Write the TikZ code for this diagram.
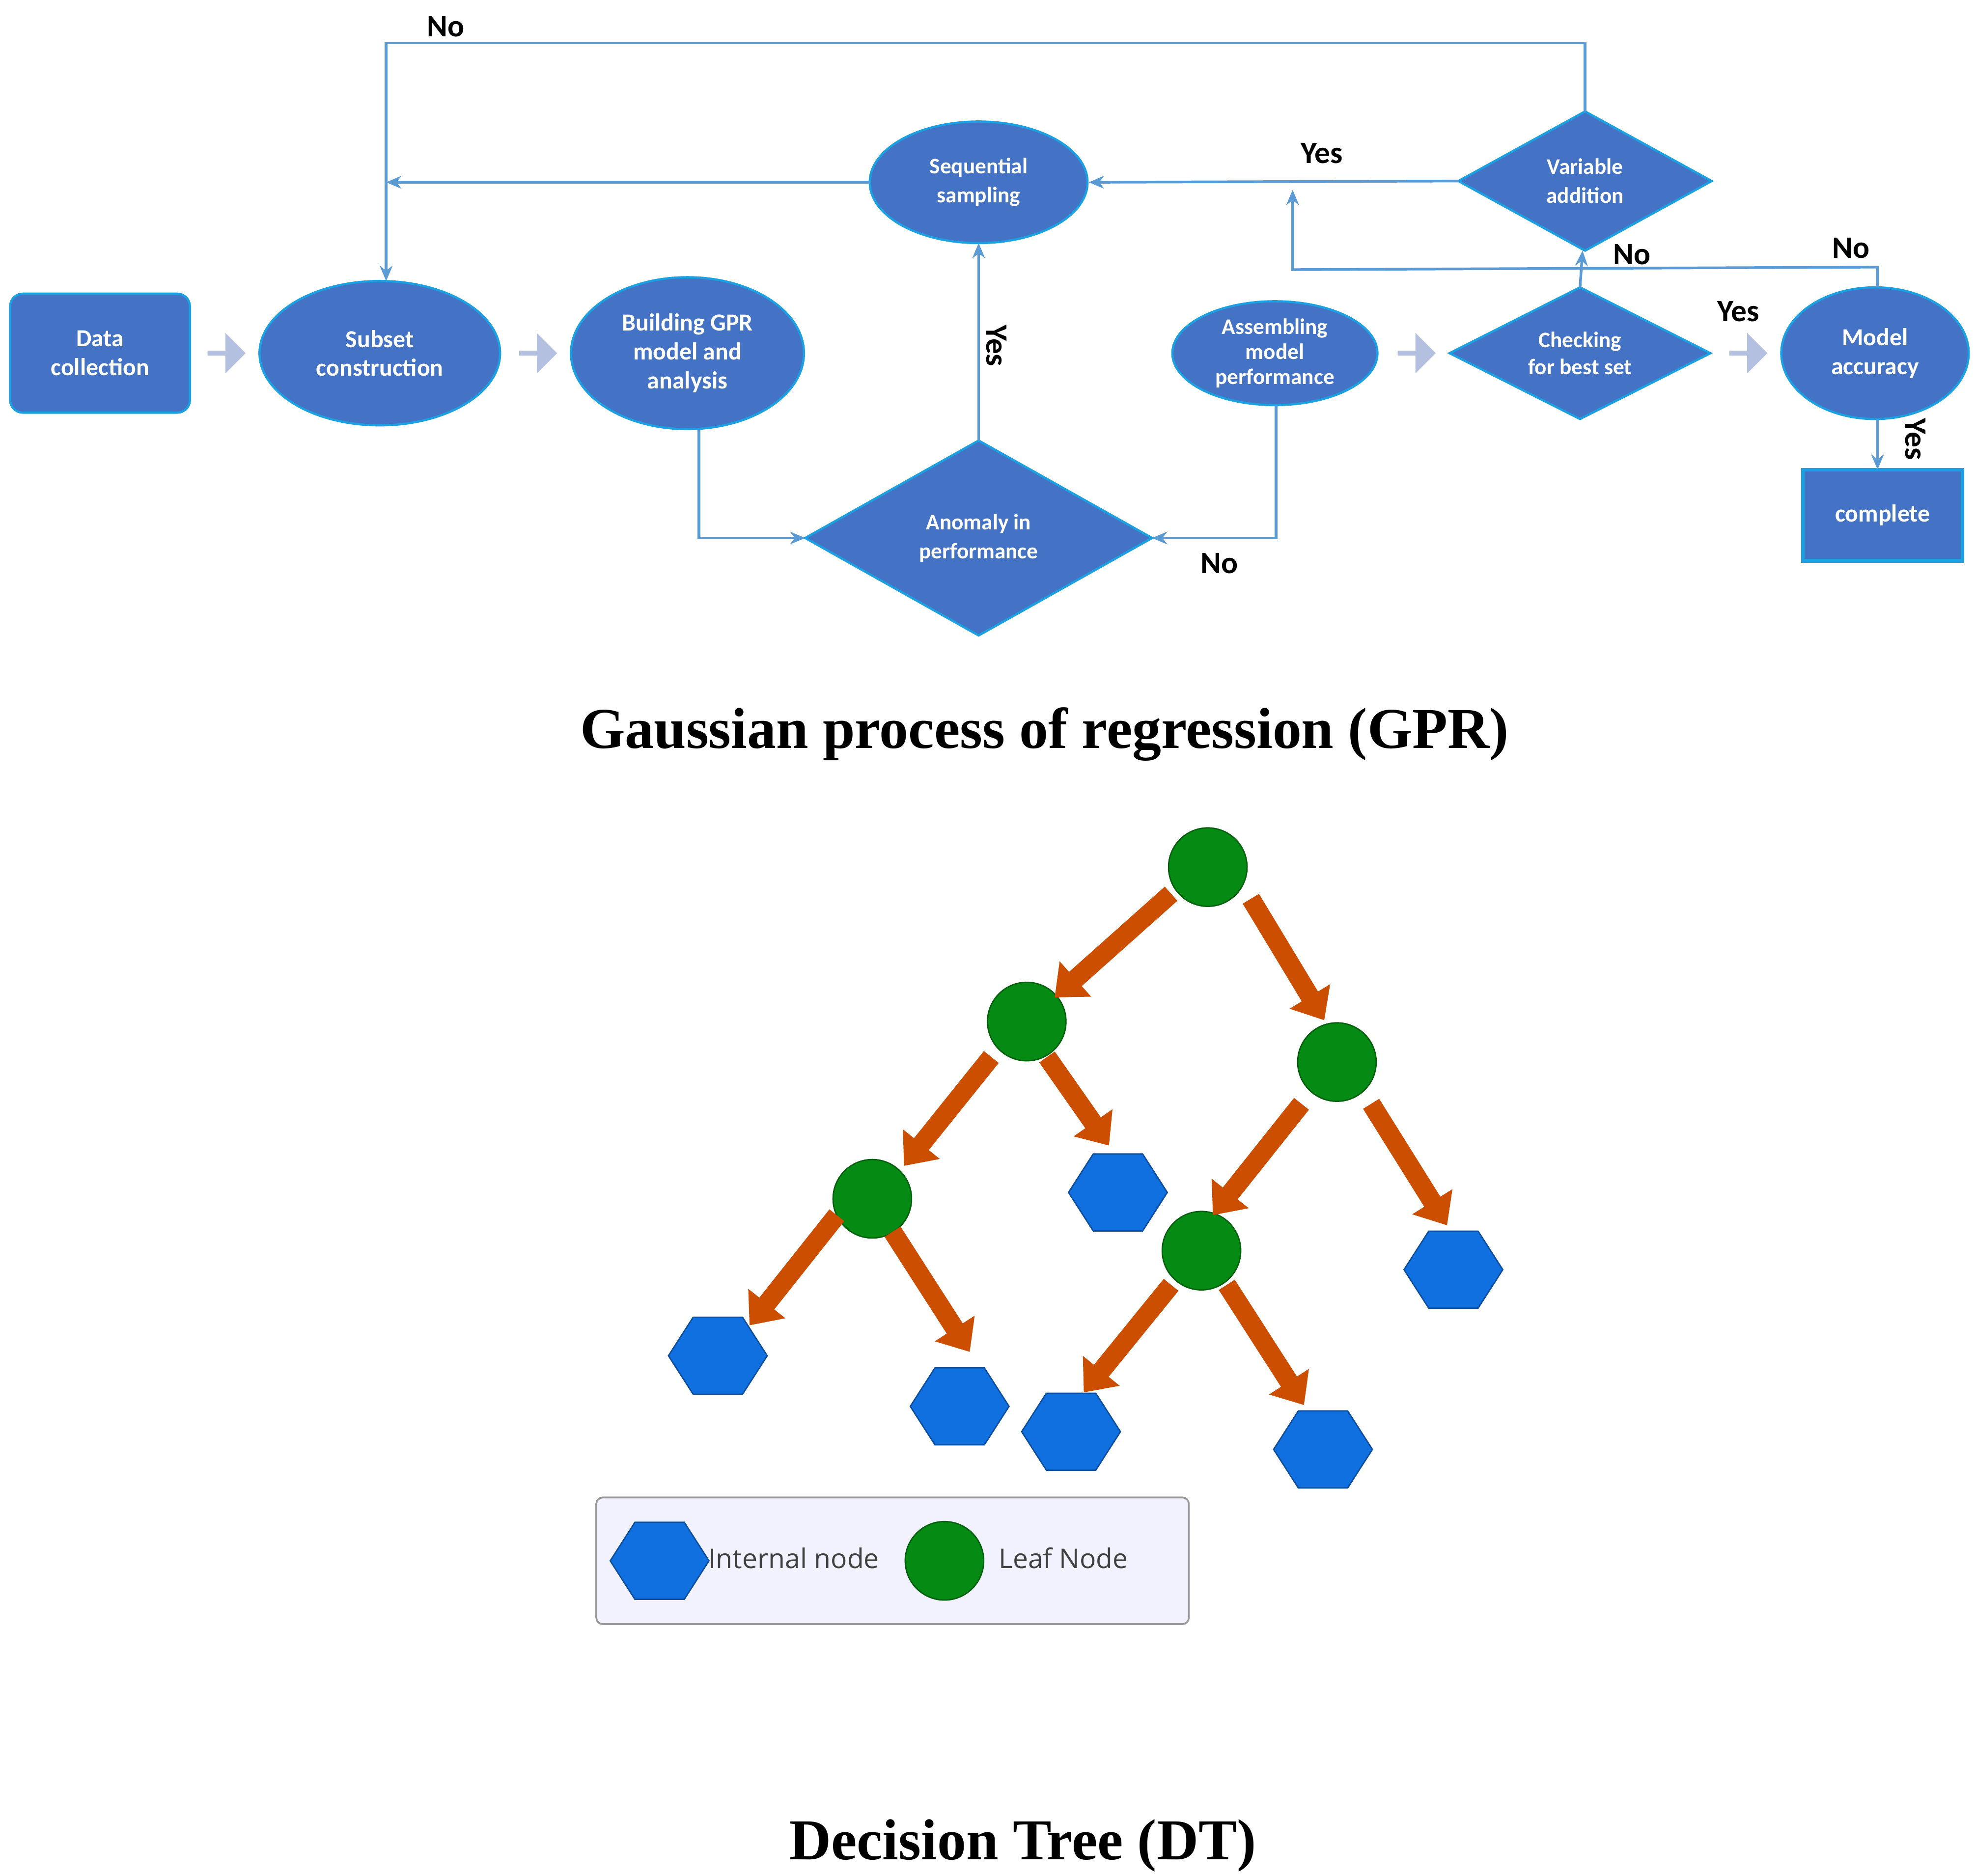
\documentclass[tikz,border=0pt]{standalone}
\usepackage{fontspec}
\setmainfont{Liberation Serif}
\newfontfamily\calfnt{Carlito}
\newfontfamily\osans{Open Sans}
\usetikzlibrary{shapes.geometric,shapes.arrows,arrows.meta}
\definecolor{fbl}{HTML}{4472C4}
\definecolor{bcy}{HTML}{1BA1E2}
\definecolor{ln}{HTML}{5B9BD5}
\definecolor{gra}{HTML}{B4C0E0}
\definecolor{org}{HTML}{CC4E00}
\definecolor{grn}{HTML}{058A14}
\definecolor{hbl}{HTML}{1170E0}
\begin{document}
\begin{tikzpicture}[x=0.1mm,y=-0.1mm,
  box/.style={draw=bcy,line width=0.5pt,fill=fbl,text=white,font=\calfnt\bfseries\fontsize{5.5}{6.5}\selectfont,align=center,inner sep=0pt},
  ell/.style={box,ellipse},
  con/.style={draw=ln,line width=0.6pt,-{Stealth[length=1.2mm,width=1mm]}},
  lab/.style={font=\calfnt\bfseries\fontsize{7}{8}\selectfont},
  garr/.style={single arrow,fill=gra,minimum height=3mm,minimum width=3.2mm,single arrow head extend=0.5mm,inner sep=0pt},
  lf/.style={circle,fill=grn,draw=grn!70!black,line width=0.3pt,minimum size=6.2mm,inner sep=0pt},
  hx/.style={regular polygon,regular polygon sides=6,fill=hbl,draw=hbl!70!black,line width=0.3pt,minimum size=7.8mm,inner sep=0pt,yscale=0.9},
  tarr/.style={org,line width=1.5mm,-{Triangle[width=3.6mm,length=2.2mm]}},
  title/.style={font=\bfseries\fontsize{13}{15}\selectfont}]
\useasboundingbox (0,0) rectangle (1560,1482);
% flowchart nodes
\node[box,rounded corners=1mm,minimum width=14.2mm,minimum height=9.4mm] (dc) at (79,279) {Data\\collection};
\node[ell,minimum width=19mm,minimum height=11.4mm] (sc) at (300,279) {Subset\\construction};
\node[ell,minimum width=18.4mm,minimum height=12mm] (bg) at (543,279) {Building GPR\\model and\\analysis};
\node[ell,minimum width=17.2mm,minimum height=9.6mm,font=\calfnt\bfseries\fontsize{5}{6.5}\selectfont] (ss) at (773,144) {Sequential\\sampling};
\draw[draw=bcy,line width=0.5pt,fill=fbl] (636,425)--(773,348)--(910,425)--(773,502)--cycle;
\node[text=white,font=\calfnt\bfseries\fontsize{5}{6.5}\selectfont,align=center] (an) at (773,425) {Anomaly in\\performance};
\node[ell,minimum width=16.2mm,minimum height=8.2mm,font=\calfnt\bfseries\fontsize{5}{5.6}\selectfont] (as) at (1007,279) {Assembling\\model\\performance};
\draw[draw=bcy,line width=0.5pt,fill=fbl] (1145,279)--(1248,227)--(1351,279)--(1248,331)--cycle;
\node[text=white,font=\calfnt\bfseries\fontsize{5}{6}\selectfont,align=center] (ck) at (1248,279) {Checking\\for best set};
\draw[draw=bcy,line width=0.5pt,fill=fbl] (1152,143)--(1252,88)--(1352,143)--(1252,198)--cycle;
\node[text=white,font=\calfnt\bfseries\fontsize{5}{6.5}\selectfont,align=center] (va) at (1252,143) {Variable\\addition};
\node[ell,minimum width=14.8mm,minimum height=10.4mm] (ma) at (1481,279) {Model\\accuracy};
\node[box,minimum width=12.6mm,minimum height=7.2mm,draw=bcy,line width=0.8pt] (cp) at (1487,407) {complete};
% gray arrows
\node[garr] (g1) at (178,279) {};
\node[garr] (g2) at (424,279) {};
\node[garr] (g3) at (1118,279) {};
\node[garr] (g4) at (1380,279) {};
% connectors
\coordinate (p1) at (305,144);
\draw[con] (552,340) |- (636,425);
\draw[con] (1008,320) |- (910,425);
\draw[con] (773,348) -- (773,192);
\draw[con] (687,144) -- (p1);
\draw[con] (1152,143) -- (860,144);
\draw[con] (1252,88) -- (1252,34) -- (305,34) -- (305,222);
\draw[con] (1248,227) -- (1250,198);
\draw[con] (1483,227) -- (1483,211) -- (1021,213) -- (1021,150);
\draw[con] (1483,331) -- (1483,371);
% labels
\node[lab] at (352,21) {No};
\node[lab] at (1044,121) {Yes};
\node[lab,rotate=-90] at (787,273) {Yes};
\node[lab] at (963,445) {No};
\node[lab] at (1289,201) {No};
\node[lab] at (1462,196) {No};
\node[lab] at (1373,246) {Yes};
\node[lab,rotate=-90] at (1513,347) {Yes};
\node[title] at (825,580) {Gaussian process of regression (GPR)};
% tree
\node[lf] (n1) at (954,685) {};
\node[lf] (n2) at (811,807) {};
\node[lf] (n3) at (1056,839) {};
\node[lf] (n4) at (689,947) {};
\node[lf] (n5) at (949,988) {};
\node[hx] (h1) at (883,942) {};
\node[hx] (h2) at (567,1071) {};
\node[hx] (h3) at (758,1111) {};
\node[hx] (h4) at (846,1131) {};
\node[hx] (h5) at (1045,1145) {};
\node[hx] (h6) at (1148,1003) {};
\draw[tarr] (925,706) -- (833,788);
\draw[tarr] (988,710) -- (1046,806);
\draw[tarr] (783,835) -- (714,921);
\draw[tarr] (827,835) -- (876,905);
\draw[tarr] (1028,872) -- (958,960);
\draw[tarr] (1083,872) -- (1143,968);
\draw[tarr] (661,960) -- (592,1047);
\draw[tarr] (705,973) -- (766,1068);
\draw[tarr] (925,1015) -- (856,1100);
\draw[tarr] (969,1015) -- (1030,1110);
% legend
\node[draw=gray!80,fill=blue!5!white,rounded corners=0.5mm,minimum width=46.8mm,minimum height=10mm,line width=0.4pt] (lg) at (705,1233) {};
\node[hx] (lh) at (521,1233) {};
\node[lf] (lc) at (746,1233) {};
\node[font=\osans\fontsize{6.1}{7}\selectfont,text=black!75] at (627,1231) {Internal node};
\node[font=\osans\fontsize{6.1}{7}\selectfont,text=black!75] at (840,1231) {Leaf Node};
\node[title] at (808,1458) {Decision Tree (DT)};
\end{tikzpicture}
\end{document}
